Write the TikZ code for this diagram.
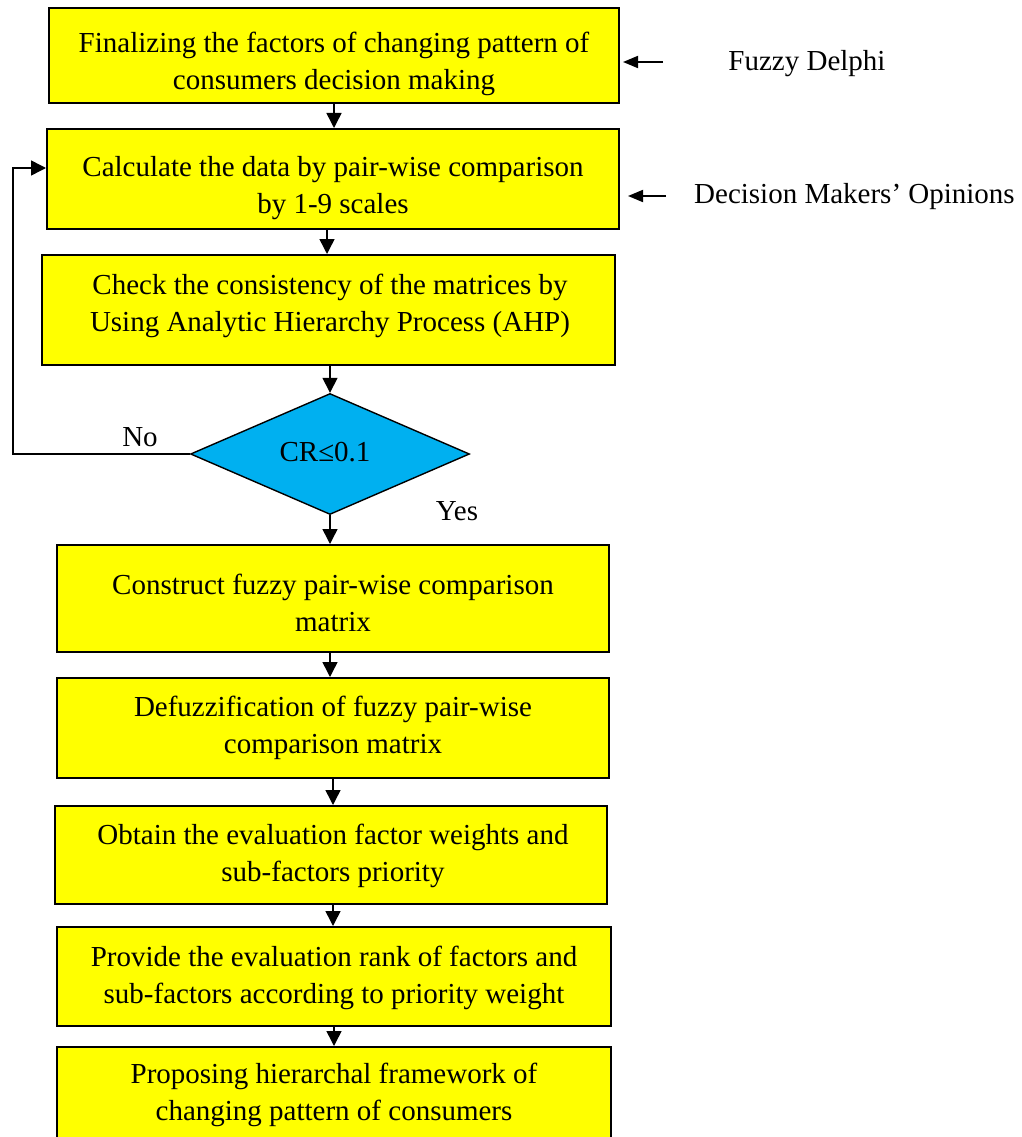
\documentclass[tikz,border=0pt]{standalone}
\usepackage{fontspec}
\setmainfont{Liberation Serif}
\usetikzlibrary{arrows.meta,shapes.geometric}
\definecolor{boxyellow}{RGB}{255,255,0}
\definecolor{diablue}{RGB}{0,176,240}
\begin{document}
\begin{tikzpicture}[x=1pt,y=-1pt,
  stepbox/.style={draw=black,line width=2pt,fill=boxyellow,inner sep=0pt},
  txt/.style={align=center,inner sep=0pt,font=\fontsize{29}{37}\selectfont},
  lbl/.style={inner sep=0pt,font=\fontsize{29}{35}\selectfont},
  decis/.style={diamond,draw=black,line width=1.4pt,fill=diablue,inner sep=0pt,aspect=2.3},
  arr/.style={line width=1.5pt,-{Triangle[length=15pt,width=15pt]}},
  sarr/.style={line width=1.8pt,-{Triangle[length=15pt,width=12pt]}}]
\useasboundingbox (0,0) rectangle (1021,1137);
% boxes
\node[stepbox,minimum width=570pt,minimum height=95pt] (b1) at (334,55.5) {};
\node[stepbox,minimum width=572pt,minimum height=100pt] (b2) at (333,179) {};
\node[stepbox,minimum width=573pt,minimum height=110pt] (b3) at (328.5,310) {};
\node[decis,minimum width=279pt,minimum height=121pt] (dia) at (330,454) {};
\node[stepbox,minimum width=552pt,minimum height=107pt] (b4) at (333,598.5) {};
\node[stepbox,minimum width=552pt,minimum height=100pt] (b5) at (333,728) {};
\node[stepbox,minimum width=552pt,minimum height=98pt] (b6) at (331,855) {};
\node[stepbox,minimum width=554pt,minimum height=99pt] (b7) at (334,976.5) {};
\node[stepbox,minimum width=554pt,minimum height=100pt] (b8) at (334,1097) {};
% texts
\node[txt] (t1) at (334,63.5) {Finalizing the factors of changing pattern of\\consumers decision making};
\node[txt] (t2) at (333,188) {Calculate the data by pair-wise comparison\\by 1-9 scales};
\node[txt] (t3) at (330,305.5) {Check the consistency of the matrices by\\Using Analytic Hierarchy Process (AHP)};
\node[lbl] (tcr) at (325,452) {CR≤0.1};
\node[txt] (t4) at (333,603) {Construct fuzzy pair-wise comparison\\matrix};
\node[txt] (t5) at (333,728) {Defuzzification of fuzzy pair-wise\\comparison matrix};
\node[txt] (t6) at (333,856) {Obtain the evaluation factor weights and\\sub-factors priority};
\node[txt] (t7) at (334,977.5) {Provide the evaluation rank of factors and\\sub-factors according to priority weight};
\node[txt] (t8) at (334,1094.5) {Proposing hierarchal framework of\\changing pattern of consumers};
% side labels
\node[lbl] (fd) at (807,64) {Fuzzy Delphi};
\node[lbl,anchor=west] (dm) at (694,197) {Decision Makers’ Opinions};
\node[lbl] (no) at (140,437) {No};
\node[lbl] (yes) at (457,511) {Yes};
% side arrows
\coordinate (fdA) at (663,62);
\coordinate (fdB) at (623,62);
\coordinate (dmA) at (666,196);
\coordinate (dmB) at (628,196);
\draw[sarr] (fdA) -- (fdB);
\draw[sarr] (dmA) -- (dmB);
% flow arrows
\draw[arr] (b1.south) -- (b1.south |- b2.north);
\draw[arr] (b2.south -| dia.north) ++(-3,0) coordinate (a23) -- (a23 |- b3.north);
\draw[arr] (b3.south -| dia.north) -- (dia.north);
\draw[arr] (dia.south) -- (dia.south |- b4.north);
\draw[arr] (b4.south -| dia.north) -- (dia.north |- b5.north);
\draw[arr] (b5.south) -- (b5.south |- b6.north);
\draw[arr] (b6.south -| b5.south) -- (b5.south |- b7.north);
\draw[arr] (b7.south) -- (b7.south |- b8.north);
% feedback loop
\coordinate (fbc) at (13,168);
\draw[arr] (dia.west) -| (fbc) -- (fbc -| b2.west);
\end{tikzpicture}
\end{document}
